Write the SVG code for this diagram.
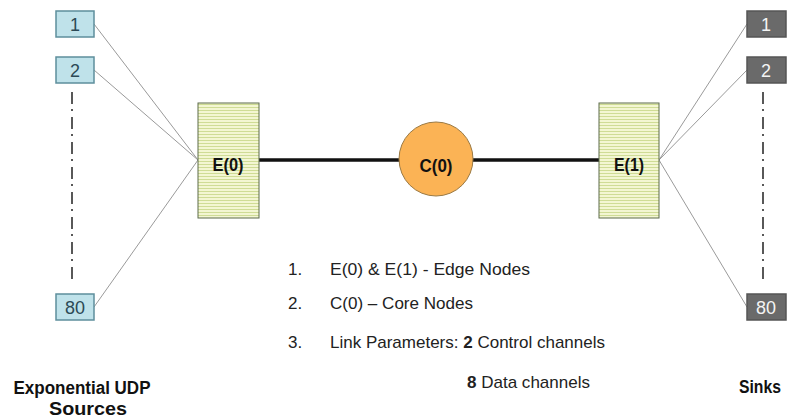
<svg xmlns="http://www.w3.org/2000/svg" width="788" height="419" viewBox="0 0 788 419">
  <defs>
    <pattern id="stripes" width="6" height="3" patternUnits="userSpaceOnUse">
      <rect width="6" height="3" fill="#f3f6d2"/>
      <rect y="2" width="6" height="1" fill="#cfdc95"/>
    </pattern>
    <style>
      .src rect { fill: #bfe2ea; stroke: #5e8e9c; stroke-width: 1.5; }
      .src text { fill: #2c4a56; font: 18px "Liberation Sans", Arial, sans-serif; text-anchor: middle; }
      .snk rect { fill: #6a6a6a; stroke: #555; stroke-width: 1.5; }
      .snk text { fill: #f4f4f4; font: 18px "Liberation Sans", Arial, sans-serif; text-anchor: middle; }
      .edge rect { fill: url(#stripes); stroke: #5c6b4a; stroke-width: 1; }
      .lbl { font: bold 18px "Liberation Sans", Arial, sans-serif; fill: #111; text-anchor: middle; }
      .thin { stroke: #9a9a9a; stroke-width: 1; fill: none; }
      .dots { stroke: #222; stroke-width: 1.5; stroke-dasharray: 12 5 2 6; }
      .note { font: 17px "Liberation Sans", Arial, sans-serif; fill: #222; }
      .cap { font: bold 18px "Liberation Sans", Arial, sans-serif; fill: #111; text-anchor: middle; }
    </style>
  </defs>
  <rect width="788" height="419" fill="#ffffff"/>

  <g id="connectors">
    <line class="thin" x1="94" y1="24" x2="198" y2="160"/>
    <line class="thin" x1="94" y1="70" x2="198" y2="160"/>
    <line class="thin" x1="94" y1="307" x2="198" y2="160"/>
    <line class="thin" x1="659" y1="160" x2="747" y2="24"/>
    <line class="thin" x1="659" y1="160" x2="747" y2="70"/>
    <line class="thin" x1="659" y1="160" x2="747" y2="307"/>
    <line x1="259" y1="160" x2="599" y2="160" stroke="#111" stroke-width="3.5"/>
    <line class="dots" x1="72" y1="92" x2="72" y2="280"/>
    <line class="dots" x1="763" y1="92" x2="763" y2="280"/>
  </g>

  <g id="src-1" class="src"><rect x="56" y="11" width="38" height="26"/><text x="75" y="31">1</text></g>
  <g id="src-2" class="src"><rect x="56" y="57" width="38" height="26"/><text x="75" y="77">2</text></g>
  <g id="src-80" class="src"><rect x="56" y="294" width="38" height="26"/><text x="75" y="314" textLength="20" lengthAdjust="spacingAndGlyphs">80</text></g>

  <g id="sink-1" class="snk"><rect x="747" y="11" width="39" height="26"/><text x="766" y="31">1</text></g>
  <g id="sink-2" class="snk"><rect x="747" y="57" width="39" height="26"/><text x="766" y="77">2</text></g>
  <g id="sink-80" class="snk"><rect x="747" y="294" width="39" height="26"/><text x="766" y="314" textLength="20" lengthAdjust="spacingAndGlyphs">80</text></g>

  <g id="E0" class="edge"><rect x="198" y="103" width="61" height="115"/><text class="lbl" x="228" y="171" textLength="31" lengthAdjust="spacingAndGlyphs">E(0)</text></g>
  <g id="E1" class="edge"><rect x="599" y="103" width="60" height="115"/><text class="lbl" x="629" y="171" textLength="30" lengthAdjust="spacingAndGlyphs">E(1)</text></g>

  <g id="C0">
    <circle cx="436" cy="159" r="37" fill="#fbb355" stroke="#9a7a45" stroke-width="1"/>
    <text class="lbl" x="436" y="172" textLength="33" lengthAdjust="spacingAndGlyphs">C(0)</text>
  </g>

  <g id="legend">
    <text class="note" x="288" y="275">1.</text>
    <text class="note" x="330" y="275" textLength="200" lengthAdjust="spacingAndGlyphs">E(0) &amp; E(1)  - Edge Nodes</text>
    <text class="note" x="288" y="309">2.</text>
    <text class="note" x="330" y="309" textLength="143" lengthAdjust="spacingAndGlyphs">C(0) – Core Nodes</text>
    <text class="note" x="288" y="348">3.</text>
    <text class="note" x="330" y="348" textLength="275" lengthAdjust="spacingAndGlyphs">Link Parameters: <tspan font-weight="bold">2</tspan> Control channels</text>
    <text class="note" x="467" y="388" textLength="123" lengthAdjust="spacingAndGlyphs"><tspan font-weight="bold">8</tspan> Data channels</text>
  </g>

  <g id="captions">
    <text class="cap" x="82" y="394" textLength="137" lengthAdjust="spacingAndGlyphs">Exponential UDP</text>
    <text class="cap" x="88" y="415" textLength="78" lengthAdjust="spacingAndGlyphs">Sources</text>
    <text class="cap" x="760" y="393" textLength="42" lengthAdjust="spacingAndGlyphs">Sinks</text>
  </g>
</svg>
